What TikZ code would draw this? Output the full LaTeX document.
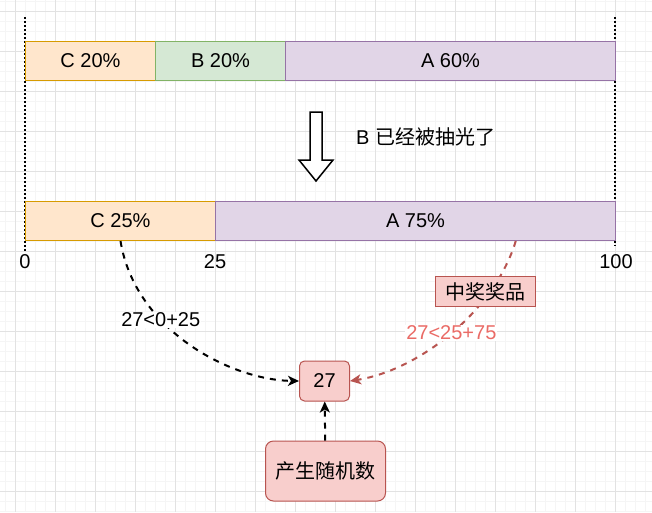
\documentclass[tikz,border=0pt]{standalone}
\usepackage{fontspec}
\setmainfont{Liberation Sans}
\newfontfamily\cjk{Noto Sans CJK SC}
\usetikzlibrary{arrows.meta,calc}
\definecolor{cfill}{HTML}{FFE6CC}\definecolor{cstroke}{HTML}{D79B00}
\definecolor{bfill}{HTML}{D5E8D4}\definecolor{bstroke}{HTML}{82B366}
\definecolor{afill}{HTML}{E1D5E7}\definecolor{astroke}{HTML}{9673A6}
\definecolor{rfill}{HTML}{F8CECC}\definecolor{rstroke}{HTML}{B85450}
\definecolor{rtext}{HTML}{EA6B66}
\definecolor{gridmajor}{HTML}{E2E2E2}\definecolor{gridminor}{HTML}{F5F5F5}
\begin{document}
\begin{tikzpicture}[x=1pt,y=-1pt,
  font=\fontsize{20}{24}\selectfont,
  barbox/.style={draw, line width=1pt, minimum height=39pt, inner sep=0pt, anchor=north west},
  redbox/.style={draw=rstroke, fill=rfill, line width=1pt, inner sep=0pt},
  plain/.style={inner sep=1pt},
  lbl/.style={fill=white, inner sep=1pt},
  dedge/.style={line width=2pt, dash pattern=on 6pt off 6pt, -{Stealth[length=11pt,width=10pt,inset=3pt]}},
  dotline/.style={line width=1.5pt, dash pattern=on 1.5pt off 2.5pt}]
\useasboundingbox (0,0) rectangle (652,512);
\fill[white] (0,0) rectangle (652,512);
% grid
\foreach \x in {5,15,...,655} \draw[gridminor, line width=1pt] (\x,0) -- (\x,512);
\foreach \y in {1.7,11.7,...,512} \draw[gridminor, line width=1pt] (0,\y) -- (652,\y);
\foreach \x in {15,55,...,655} \draw[gridmajor, line width=1pt] (\x,0) -- (\x,512);
\foreach \y in {11.7,51.7,...,512} \draw[gridmajor, line width=1pt] (0,\y) -- (652,\y);
% dotted guide lines
\draw[dotline] (25,17) -- (25,252);
\draw[dotline] (615,17) -- (615,246);
% top bar
\node[barbox, draw=cstroke, fill=cfill, minimum width=130pt] (c20) at (25,41) {C 20\%};
\node[barbox, draw=bstroke, fill=bfill, minimum width=130pt] (b20) at (155,41) {B 20\%};
\node[barbox, draw=astroke, fill=afill, minimum width=330pt] (a60) at (285,41) {A 60\%};
% hollow arrow
\draw[line width=1.5pt, fill=white, line join=miter] (310,112) -- (322,112) -- (322,160) -- (333,160) -- (316,181) -- (299,160) -- (310,160) -- cycle;
\node[plain, anchor=west] (bgone) at (355,137) {B {\cjk 已经被抽光了}};
% bottom bar
\node[barbox, draw=cstroke, fill=cfill, minimum width=190pt] (c25) at (25,201) {C 25\%};
\node[barbox, draw=astroke, fill=afill, minimum width=400pt] (a75) at (215,201) {A 75\%};
% scale labels
\node[plain] (t0) at (25,262) {0};
\node[plain] (t25) at (215,262) {25};
\node[plain] (t100) at (616,262) {100};
% nodes
\node[redbox, rounded corners=5pt, minimum width=50pt, minimum height=40pt] (n27) at (324.5,381) {27};
\node[redbox, rounded corners=8pt, minimum width=120pt, minimum height=60pt] (rand) at (325.5,471) {\cjk 产生随机数};
\coordinate (redstart) at ($(a75.south west)!0.75!(a75.south east)$);
% edges
\draw[dedge] (c25.south) .. controls (135,330) and (230,380) .. (n27.west)
  node[lbl, pos=0.35] (lblc) {27<0+25};
\draw[dedge, draw=rstroke, rstroke] (redstart) .. controls (495,310) and (420,370) .. (n27.east)
  node[lbl, pos=0.5, text=rtext] (lbla) {27<25+75};
\draw[dedge] (rand) -- (n27);
\node[redbox, minimum width=100pt, minimum height=30pt] (prize) at (485.5,291.5) {\cjk 中奖奖品};
\end{tikzpicture}
\end{document}
